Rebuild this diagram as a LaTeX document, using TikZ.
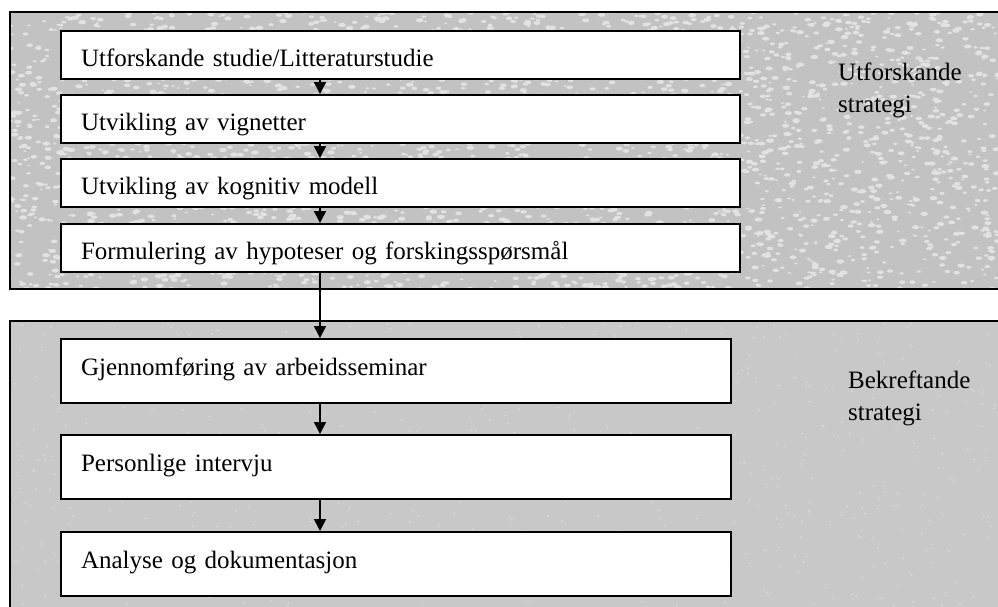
\documentclass[tikz,border=0pt]{standalone}
\usepackage{fontspec}
\setmainfont{Liberation Serif}
\usetikzlibrary{arrows.meta,calc}
\definecolor{toppanel}{RGB}{194,194,194}
\definecolor{topspeck}{RGB}{226,226,226}
\definecolor{botpanel}{RGB}{200,200,200}
\definecolor{botspeck}{RGB}{218,218,218}
\begin{document}
\begin{tikzpicture}[x=1pt,y=-1pt,
  panel/.style={draw=black,line width=1.6pt},
  boxstep/.style={draw=black,fill=white,line width=2pt,anchor=north west,
    inner xsep=20pt,inner ysep=0pt,align=left,
    font=\fontsize{25}{32}\selectfont},
  topbox/.style={boxstep,minimum height=48pt,text width=639pt,text height=22pt,text depth=0pt},
  botbox/.style={boxstep,minimum height=64pt,text width=630pt,text height=17pt,text depth=8pt},
  arr/.style={line width=1.6pt,-{Triangle[length=12pt,width=12pt]}},
  lbl/.style={anchor=base west,inner sep=0pt,
    font=\fontsize{25}{32}\selectfont}
]
\useasboundingbox (0,0) rectangle (998,606);
\clip (0,0) rectangle (998,606);
% panels
\fill[toppanel] (10,12) rectangle (1010,289);
\begin{scope}
  \clip (10,12) rectangle (1010,289);
  \pgfmathsetseed{7}
  \foreach \i in {1,...,3200}{
    \pgfmathsetmacro{\px}{10+988*rnd}
    \pgfmathsetmacro{\py}{12+277*rnd}
    \pgfmathsetmacro{\pr}{0.9+1.3*rnd}
    \fill[topspeck] (\px,\py) ellipse ({\pr*1.8} and \pr);
  }
\end{scope}
\draw[panel] (10,12) rectangle (1010,289);
\fill[botpanel] (10,321) rectangle (1010,620);
\begin{scope}
  \clip (10,321) rectangle (1010,620);
  \pgfmathsetseed{11}
  \foreach \i in {1,...,700}{
    \pgfmathsetmacro{\px}{10+988*rnd}
    \pgfmathsetmacro{\py}{321+290*rnd}
    \fill[botspeck] (\px,\py) circle (1);
  }
\end{scope}
\draw[panel] (10,321) rectangle (1010,620);
% top boxes
\node[topbox] (b1) at (60,30) {Utforskande studie/Litteraturstudie};
\node[topbox] (b2) at (60,94) {Utvikling av vignetter};
\node[topbox] (b3) at (60,158) {Utvikling av kognitiv modell};
\node[topbox] (b4) at (60,223) {Formulering av hypoteser og forskingsspørsmål};
% bottom boxes
\node[botbox] (b5) at (60,338) {Gjennomføring av arbeidsseminar};
\node[botbox] (b6) at (60,434) {Personlige intervju};
\node[botbox] (b7) at (60,531) {Analyse og dokumentasjon};
% labels
\node[lbl] (l1a) at (838,80) {Utforskande};
\node[lbl] (l1b) at (838,112) {strategi};
\node[lbl] (l2a) at (848,388) {Bekreftande};
\node[lbl] (l2b) at (848,420) {strategi};
% arrows
\coordinate (ax) at (320,0);
\draw[arr] (b1.south -| ax) -- (b2.north -| ax);
\draw[arr] (b2.south -| ax) -- (b3.north -| ax);
\draw[arr] (b3.south -| ax) -- (b4.north -| ax);
\draw[arr] (b4.south -| ax) -- (b5.north -| ax);
\draw[arr] (b5.south -| ax) -- (b6.north -| ax);
\draw[arr] (b6.south -| ax) -- (b7.north -| ax);
\end{tikzpicture}
\end{document}
